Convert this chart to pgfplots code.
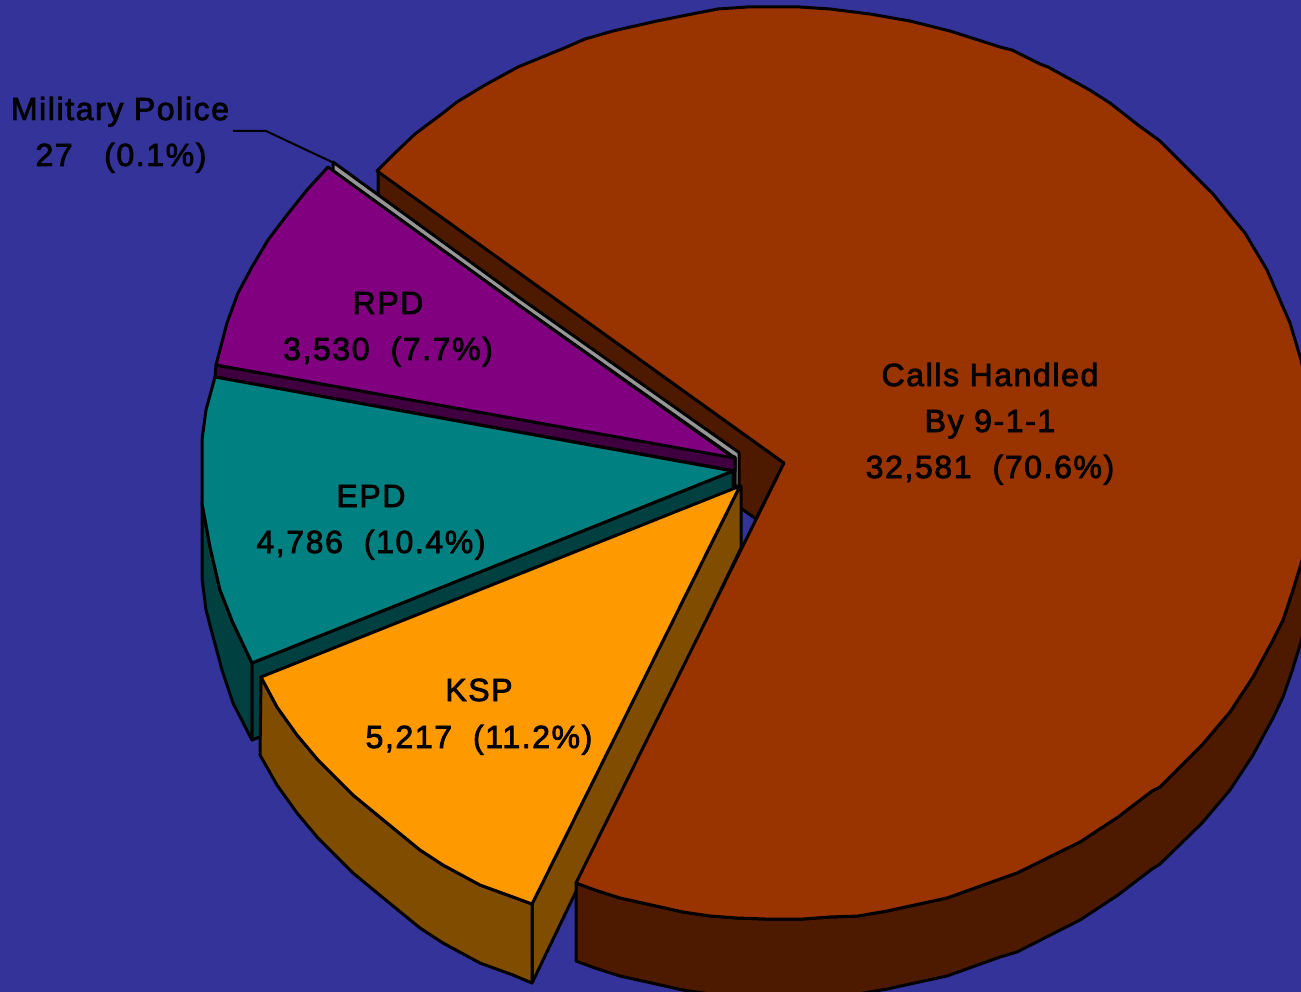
\documentclass[border=0pt]{standalone}
\usepackage{pgfplots}
\pgfplotsset{compat=1.18}
\usepackage{fontspec}
\setmainfont[LetterSpace=5,FakeBold=2.5]{Liberation Sans}
\definecolor{bg}{HTML}{333399}
\definecolor{mainc}{HTML}{993300}
\definecolor{maind}{HTML}{4D1A00}
\definecolor{orangec}{HTML}{FF9900}
\definecolor{oranged}{HTML}{804D00}
\definecolor{tealc}{HTML}{008080}
\definecolor{teald}{HTML}{004040}
\definecolor{purplec}{HTML}{800080}
\definecolor{purpled}{HTML}{400040}
\definecolor{grayc}{HTML}{969696}
\tikzset{lbl/.style={anchor=base,font=\fontsize{32}{32}\selectfont,text=black,inner sep=0pt}}
\begin{document}
\begin{tikzpicture}
\begin{axis}[
  width=1301pt,height=992pt,scale only axis,
  xmin=0,xmax=1301,ymin=0,ymax=992,y dir=reverse,
  axis lines=none,
  every axis plot/.append style={line width=3pt,line join=round,mark=none},
]
% background
\addplot[fill=bg,draw=none] coordinates {(0,0)(1301,0)(1301,992)(0,992)} -- cycle;
% main inner wall
\addplot[fill=maind,draw=black] coordinates {(378,171)(378,249)(756,519)(784,463)} -- cycle;
% leader
\addplot[draw=black,line width=2pt] coordinates {(233,131)(266,131)(332,162)};
% military police sliver
\addplot[fill=grayc,draw=black] coordinates {(333,162)(520,298)(739,452.5)(739,486)(735,486)(735,458)(520,306)(333,171)} -- cycle;
% RPD
\addplot[fill=purpled,draw=black] coordinates {(216,365)(735,457)(735,471)(215,377)} -- cycle;
\addplot[fill=purplec,draw=black] coordinates {(216,365)(734,458)(520,306)(328,167)(307,190)(287,215)(268,240)(252,267)(238,293)(227,323)} -- cycle;
% EPD
\addplot[fill=teald,draw=black] coordinates {(202,503)(202,578)(206,610)(222,670)(233,703)(252,740)(252,663)(233,623)(220,590)(210,547)} -- cycle;
\addplot[fill=teald,draw=black] coordinates {(252,663)(733,471)(733,548)(252,740)} -- cycle;
\addplot[fill=tealc,draw=black] coordinates {(215,377)(733,471)(252,663)(233,623)(220,590)(210,547)(202,503)(202,440)(206,410)} -- cycle;
% KSP
\addplot[fill=oranged,draw=black] coordinates {(740,486)(741,486)(741,548)(532,983)(532,904)} -- cycle;
\addplot[fill=oranged,draw=black] coordinates {(261,677)(277,707)(297,735)(318,760)(353,795)(387,823)(420,850)(443,865)(480,885)(513,897)(532,904)(532,983)(513,975)(480,963)(443,943)(420,928)(387,901)(353,873)(318,838)(297,813)(277,785)(260,755)} -- cycle;
\addplot[fill=orangec,draw=black] coordinates {(740,486)(261,677)(277,707)(297,735)(318,760)(353,795)(387,823)(420,850)(443,865)(480,885)(513,897)(532,904)} -- cycle;
% main side
\addplot[fill=maind,draw=black] coordinates {(1317,463)(1310,530)(1301,564)(1292,593)(1283,620)(1273,640)(1253,677)(1230,712)(1202,745)(1160,787)(1152,791)(1118,817)(1080,842)(1017,873)(1000,879)(947,898)(887,911)(858,916)(830,917)(803,919)(765,919)(737,918)(710,916)(683,912)(620,898)(595,890)(576,883)(576,961)(595,968)(620,976)(683,990)(710,994)(737,996)(765,997)(803,997)(830,995)(858,994)(887,989)(947,976)(1000,957)(1017,952)(1080,920)(1118,895)(1152,869)(1160,864)(1202,823)(1230,790)(1253,755)(1273,718)(1283,697)(1292,671)(1301,642)(1310,608)(1317,541)} -- cycle;
% main top
\addplot[fill=mainc,draw=black] coordinates {(784,463)(377,171)(395,153)(415,134)(443,113)(457,102)(485,85)(518,67)(562,49)(585,39)(613,31)(657,21)(692,14)(718,9)(747,7)(770,7)(800,7)(830,9)(870,14)(910,21)(950,31)(1000,47)(1012,50)(1040,64)(1048,67)(1088,89)(1110,103)(1138,125)(1160,141)(1213,194)(1230,215)(1245,233)(1267,270)(1283,307)(1290,323)(1301,360)(1310,400)(1317,463)(1310,530)(1301,564)(1292,593)(1283,620)(1273,640)(1253,677)(1230,712)(1202,745)(1160,787)(1152,791)(1118,817)(1080,842)(1017,873)(1000,879)(947,898)(887,911)(858,916)(830,917)(803,919)(765,919)(737,918)(710,916)(683,912)(620,898)(595,890)(576,883)} -- cycle;
% labels
\node[lbl] at (axis cs:120,120) {Military Police};
\node[lbl] at (axis cs:121,166) {27\ \ \ (0.1\%)};
\node[lbl] at (axis cs:388,314) {RPD};
\node[lbl] at (axis cs:388,360) {3,530\ \ (7.7\%)};
\node[lbl] at (axis cs:371,507) {EPD};
\node[lbl] at (axis cs:371,553) {4,786\ \ (10.4\%)};
\node[lbl] at (axis cs:479,701) {KSP};
\node[lbl] at (axis cs:479,748) {5,217\ \ (11.2\%)};
\node[lbl] at (axis cs:990,386) {Calls Handled};
\node[lbl] at (axis cs:990,432) {By 9-1-1};
\node[lbl] at (axis cs:990,478) {32,581\ \ (70.6\%)};
\end{axis}
\end{tikzpicture}
\end{document}
